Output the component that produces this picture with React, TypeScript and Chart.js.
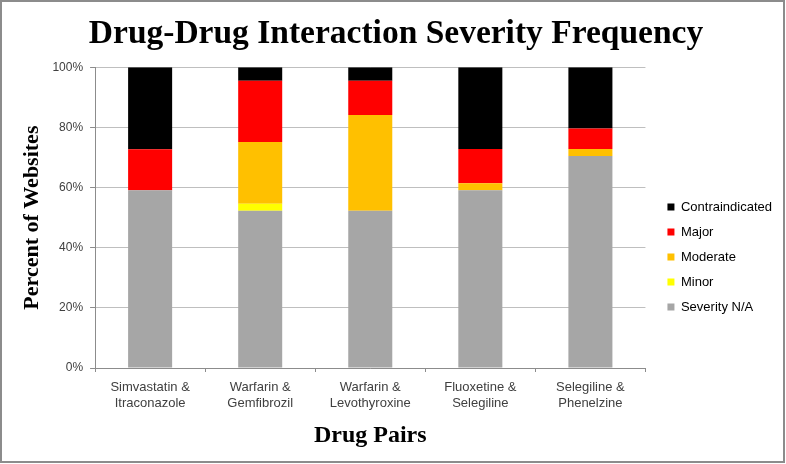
import React, { useEffect, useRef } from "react";
import { Chart, registerables } from "chart.js";

Chart.register(...registerables);

const categories: string[][] = [
  ["Simvastatin &", "Itraconazole"],
  ["Warfarin &", "Gemfibrozil"],
  ["Warfarin &", "Levothyroxine"],
  ["Fluoxetine &", "Selegiline"],
  ["Selegiline &", "Phenelzine"],
];

const severityNA = [59.1, 52.3, 52.3, 59.1, 70.5];
const minor = [0, 2.3, 0, 0, 0];
const moderate = [0, 20.5, 31.8, 2.3, 2.3];
const major = [13.6, 20.4, 11.4, 11.4, 6.8];
const contraindicated = [27.3, 4.5, 4.5, 27.2, 20.4];

const yTicks = [0, 20, 40, 60, 80, 100];

// layout tweaks (relative offsets)
const LEGEND_EXTRA_WIDTH = 11;
const LEGEND_DX = 10;
const LEGEND_DY = 30;
const TITLE_DX = -5;

const placement = {
  id: "placement",
  beforeLayout(chart: any) {
    const lg = chart.legend;
    if (lg && !lg.__patched) {
      const orig = lg.fit;
      lg.fit = function () {
        orig.call(this);
        this.width += LEGEND_EXTRA_WIDTH;
      };
      lg.__patched = true;
    }
  },
  afterLayout(chart: any) {
    const lg = chart.legend;
    if (lg) {
      lg.left += LEGEND_DX;
      lg.right += LEGEND_DX;
      lg.top += LEGEND_DY;
      lg.bottom += LEGEND_DY;
    }
    const tb = chart.titleBlock;
    if (tb) {
      tb.left += TITLE_DX;
      tb.right += TITLE_DX;
    }
  },
};

const borderPlugin = {
  id: "outerBorder",
  beforeDraw(chart: any) {
    const ctx = chart.ctx;
    ctx.save();
    ctx.fillStyle = "#ffffff";
    ctx.fillRect(0, 0, chart.width, chart.height);
    ctx.restore();
  },
  afterDraw(chart: any) {
    const ctx = chart.ctx;
    ctx.save();
    ctx.strokeStyle = "#8c8c8c";
    ctx.lineWidth = 2;
    ctx.strokeRect(1, 1, chart.width - 3, chart.height - 3);
    ctx.restore();
  },
};

export default function App() {
  const ref = useRef<HTMLCanvasElement | null>(null);

  useEffect(() => {
    document.body.style.margin = "0";
    if (!ref.current) return;
    const sans = "'Liberation Sans', Arial, sans-serif";
    const serif = "'Liberation Serif', 'Times New Roman', serif";
    const chart = new Chart(ref.current, {
      type: "bar",
      data: {
        labels: categories,
        datasets: [
          { label: "Severity N/A", data: severityNA, backgroundColor: "#A6A6A6" },
          { label: "Minor", data: minor, backgroundColor: "#FFFF00" },
          { label: "Moderate", data: moderate, backgroundColor: "#FFC000" },
          { label: "Major", data: major, backgroundColor: "#FF0000" },
          { label: "Contraindicated", data: contraindicated, backgroundColor: "#000000" },
        ],
      },
      options: {
        responsive: false,
        animation: false,
        layout: { padding: { left: 19, right: 3, top: 4, bottom: 14 } },
        datasets: { bar: { categoryPercentage: 1, barPercentage: 0.4 } },
        plugins: {
          title: {
            display: true,
            text: "Drug-Drug Interaction Severity Frequency",
            color: "#000000",
            font: { family: serif, size: 33.5, weight: "bold" },
            padding: { top: 10, bottom: 13 },
          },
          legend: {
            position: "right",
            reverse: true,
            labels: {
              boxWidth: 7,
              boxHeight: 7,
              padding: 12,
              color: "#000000",
              font: { family: sans, size: 13 },
            },
          },
          tooltip: { enabled: false },
        },
        scales: {
          x: {
            stacked: true,
            grid: {
              display: true,
              drawOnChartArea: false,
              drawTicks: true,
              tickLength: 4,
              color: "#8c8c8c",
              offset: true,
            },
            border: { display: true, color: "#8c8c8c" },
            ticks: {
              color: "#404040",
              font: { family: sans, size: 13 },
              padding: 8,
              maxRotation: 0,
              autoSkip: false,
            },
            title: {
              display: true,
              text: "Drug Pairs",
              color: "#000000",
              font: { family: serif, size: 24, weight: "bold" },
              padding: { top: 2, bottom: 0 },
            },
          },
          y: {
            stacked: true,
            min: 0,
            max: 100,
            afterBuildTicks: (axis: any) => {
              axis.ticks = yTicks.map((v) => ({ value: v }));
            },
            grid: { color: "#bfbfbf", tickLength: 5, tickColor: "#8c8c8c" },
            border: { display: true, color: "#8c8c8c" },
            ticks: {
              color: "#404040",
              font: { family: sans, size: 12 },
              padding: 7,
              callback: (v: any) => v + "%",
            },
            title: {
              display: true,
              text: "Percent of Websites",
              color: "#000000",
              font: { family: serif, size: 22, weight: "bold" },
              padding: { top: 0, bottom: 0 },
            },
          },
        },
      },
      plugins: [placement, borderPlugin],
    });
    return () => chart.destroy();
  }, []);

  return <canvas ref={ref} width={786} height={464} style={{ display: "block" }} />;
}
